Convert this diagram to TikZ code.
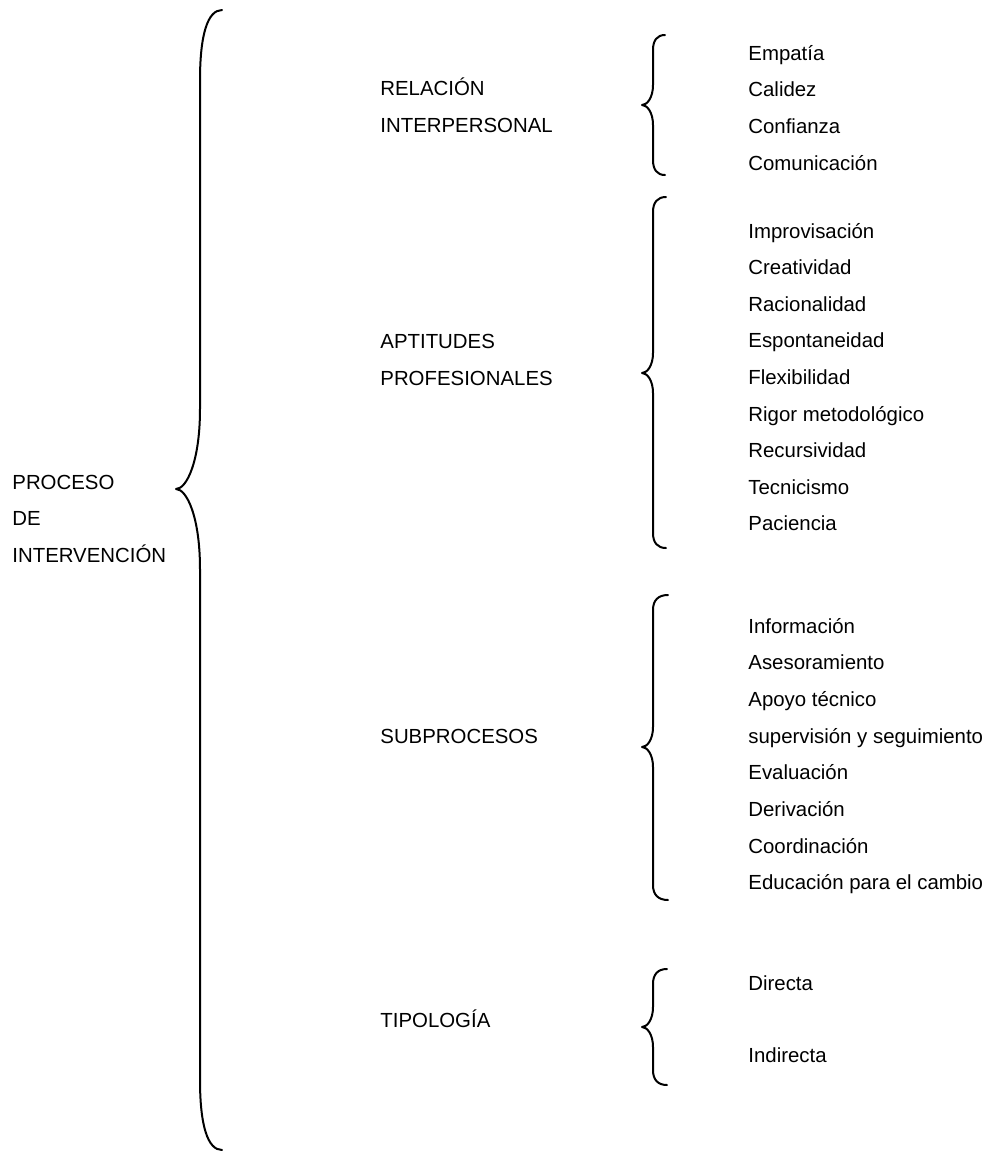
\documentclass[tikz,border=0pt]{standalone}
\usepackage{fontspec}
\setmainfont{Liberation Sans}
\newcommand{\drawbrace}[8]{% xe y0 xv xt ym y1 he hm
  \draw[bracestyle] (#1,#2) .. controls ({#3+0.35*(#1-#3)},#2) and (#3,{#2+0.35*#7}) .. (#3,{#2+#7})
    -- (#3,{#5-#8}) .. controls (#3,{#5-0.35*#8}) and ({#4+0.45*(#3-#4)},#5) .. (#4,#5)
    .. controls ({#4+0.45*(#3-#4)},#5) and (#3,{#5+0.35*#8}) .. (#3,{#5+#8})
    -- (#3,{#6-#7}) .. controls (#3,{#6-0.35*#7}) and ({#3+0.35*(#1-#3)},#6) .. (#1,#6);}
\begin{document}
\begin{tikzpicture}[x=0.5pt,y=-0.5pt,
  lbl/.style={anchor=base west,inner sep=0pt,font=\fontsize{10.2pt}{12pt}\selectfont},
  bracestyle/.style={line width=1pt,line cap=round,line join=round}]
\useasboundingbox (0,0) rectangle (989,1153);
% big brace
\drawbrace{222}{10}{200}{176}{489}{1150}{70}{80}
% small braces
\drawbrace{665}{35}{653}{642}{105}{175}{15}{20}
\drawbrace{666}{197}{653}{642}{373}{548}{15}{20}
\drawbrace{668}{595}{653}{642}{747}{900}{15}{20}
\drawbrace{667}{969}{653}{642}{1027}{1085}{15}{20}
% left
\node[lbl] (p1) at (12,489) {PROCESO};
\node[lbl] (p2) at (12,525) {DE};
\node[lbl] (p3) at (12,562) {INTERVENCIÓN};
% middle
\node[lbl] (m1) at (380,95) {RELACIÓN};
\node[lbl] (m2) at (380,132) {INTERPERSONAL};
\node[lbl] (m3) at (380,348) {APTITUDES};
\node[lbl] (m4) at (380,385) {PROFESIONALES};
\node[lbl] (m5) at (380,743) {SUBPROCESOS};
\node[lbl] (m6) at (380,1027) {TIPOLOGÍA};
% right: relacion
\node[lbl] (r1) at (748,60) {Empatía};
\node[lbl] (r2) at (748,96.7) {Calidez};
\node[lbl] (r3) at (748,133.4) {Confianza};
\node[lbl] (r4) at (748,170.1) {Comunicación};
% aptitudes
\node[lbl] (a1) at (748,238) {Improvisación};
\node[lbl] (a2) at (748,274.6) {Creatividad};
\node[lbl] (a3) at (748,311.2) {Racionalidad};
\node[lbl] (a4) at (748,347.8) {Espontaneidad};
\node[lbl] (a5) at (748,384.4) {Flexibilidad};
\node[lbl] (a6) at (748,421) {Rigor metodológico};
\node[lbl] (a7) at (748,457.6) {Recursividad};
\node[lbl] (a8) at (748,494.2) {Tecnicismo};
\node[lbl] (a9) at (748,530.8) {Paciencia};
% subprocesos
\node[lbl] (s1) at (748,633) {Información};
\node[lbl] (s2) at (748,669.7) {Asesoramiento};
\node[lbl] (s3) at (748,706.4) {Apoyo técnico};
\node[lbl] (s4) at (748,743.1) {supervisión y seguimiento};
\node[lbl] (s5) at (748,779.8) {Evaluación};
\node[lbl] (s6) at (748,816.5) {Derivación};
\node[lbl] (s7) at (748,853.2) {Coordinación};
\node[lbl] (s8) at (748,889.9) {Educación para el cambio};
% tipologia
\node[lbl] (t1) at (748,990) {Directa};
\node[lbl] (t2) at (748,1062) {Indirecta};
\end{tikzpicture}
\end{document}
